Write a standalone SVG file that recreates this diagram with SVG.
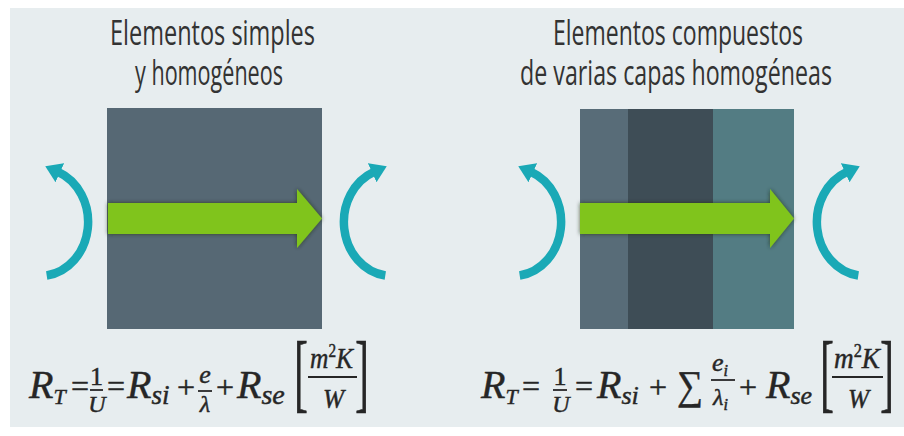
<svg xmlns="http://www.w3.org/2000/svg" width="904" height="436" viewBox="0 0 904 436">
<defs>
<style>
.title{font-family:"Open Sans","Liberation Sans",sans-serif;font-size:34px;font-weight:500;fill:#333333}
.m{font-family:"Liberation Serif","DejaVu Serif",serif;fill:#262626;stroke:#262626;stroke-width:0.45}
.i{font-style:italic}
.arc{fill:none;stroke:#1aa9b6;stroke-width:8.5;marker-end:url(#ah)}
.bar{stroke:#262626;stroke-width:1.8}
.flow{fill:#80c41c;filter:url(#sh)}
</style>
<marker id="ah" markerUnits="userSpaceOnUse" viewBox="0 0 24 24" markerWidth="24" markerHeight="24" refX="2" refY="12" orient="auto">
<path d="M0,1.5 L16,12 L0,22.5 z" fill="#1aa9b6"/>
</marker>
<filter id="sh" x="-10%" y="-30%" width="120%" height="160%">
<feDropShadow dx="0" dy="0" stdDeviation="2" flood-color="#1b2a12" flood-opacity="0.7"/>
</filter>
</defs>
<rect x="0" y="0" width="904" height="436" fill="#ffffff"/>
<rect x="10" y="8" width="894" height="419" fill="#e7edef"/>

<g id="title-simple">
<text class="title" x="110" y="45" textLength="205" lengthAdjust="spacingAndGlyphs">Elementos simples</text>
<text class="title" x="135" y="85" textLength="148" lengthAdjust="spacingAndGlyphs">y homogéneos</text>
</g>
<g id="title-composite">
<text class="title" x="553" y="45" textLength="250" lengthAdjust="spacingAndGlyphs">Elementos compuestos</text>
<text class="title" x="520" y="85" textLength="312" lengthAdjust="spacingAndGlyphs">de varias capas homogéneas</text>
</g>

<g id="wall-simple">
<rect x="107" y="108" width="215" height="221" fill="#566874"/>
</g>
<g id="wall-composite">
<rect x="580" y="109" width="48" height="220" fill="#586c78"/>
<rect x="628" y="109" width="85" height="220" fill="#3e4d56"/>
<rect x="713" y="109" width="81" height="220" fill="#537c83"/>
</g>

<g id="connectors">
<polygon class="flow" points="108,203 297,203 297,189 322,218.5 297,248 297,234 108,234"/>
<polygon class="flow" points="580,203 770,203 770,189 794,218.5 770,248 770,234 580,234"/>
<path class="arc" d="M46.7,275.5 A48,54 0 0 0 58,171.9"/>
<path class="arc" transform="matrix(-1,0,0,1,432,0)" d="M46.7,275.5 A48,54 0 0 0 58,171.9"/>
<path class="arc" transform="translate(473,0)" d="M46.7,275.5 A48,54 0 0 0 58,171.9"/>
<path class="arc" transform="matrix(-1,0,0,1,905,0)" d="M46.7,275.5 A48,54 0 0 0 58,171.9"/>
</g>

<g id="formula-simple">
<text class="m i" x="29" y="398" font-size="40">R<tspan font-size="22" dy="6">T</tspan></text>
<text class="m" x="71" y="397" font-size="32">=</text>
<text class="m" x="96.5" y="385" font-size="26" text-anchor="middle">1</text>
<line class="bar" x1="90" y1="390" x2="103" y2="390"/>
<text class="m i" x="97" y="412" font-size="24" text-anchor="middle">U</text>
<text class="m" x="107" y="397" font-size="32">=</text>
<text class="m i" x="127" y="398" font-size="40">R<tspan font-size="27" dy="6">si</tspan></text>
<text class="m" x="177" y="398" font-size="32">+</text>
<text class="m i" x="205" y="383" font-size="26" text-anchor="middle">e</text>
<line class="bar" x1="198" y1="391" x2="212" y2="391"/>
<text class="m i" x="205" y="412" font-size="24" text-anchor="middle">λ</text>
<text class="m" x="216" y="398" font-size="32">+</text>
<text class="m i" x="237" y="398" font-size="40">R<tspan font-size="28" dy="6">se</tspan></text>
<text class="m" x="294" y="401" font-size="86" textLength="14" lengthAdjust="spacingAndGlyphs">[</text>
<text class="m i" x="310" y="368" font-size="30" textLength="43" lengthAdjust="spacingAndGlyphs">m<tspan font-style="normal" font-size="18" dy="-11">2</tspan><tspan dy="11">K</tspan></text>
<line class="bar" x1="308" y1="377" x2="357" y2="377"/>
<text class="m i" x="323" y="408" font-size="28" textLength="21" lengthAdjust="spacingAndGlyphs">W</text>
<text class="m" x="355" y="401" font-size="86" textLength="14" lengthAdjust="spacingAndGlyphs">]</text>
</g>

<g id="formula-composite">
<text class="m i" x="481" y="398" font-size="40">R<tspan font-size="22" dy="6">T</tspan></text>
<text class="m" x="522" y="397" font-size="32">=</text>
<text class="m" x="560" y="385" font-size="26" text-anchor="middle">1</text>
<line class="bar" x1="553" y1="390" x2="567" y2="390"/>
<text class="m i" x="561" y="412" font-size="24" text-anchor="middle">U</text>
<text class="m" x="575" y="397" font-size="32">=</text>
<text class="m i" x="597" y="398" font-size="40">R<tspan font-size="26" dy="6">si</tspan></text>
<text class="m" x="649" y="398" font-size="32">+</text>
<text class="m" x="677" y="399" font-size="41" font-family="DejaVu Serif" textLength="26" lengthAdjust="spacingAndGlyphs">∑</text>
<text class="m i" x="712" y="371" font-size="26">e<tspan font-size="16" dy="5">i</tspan></text>
<line class="bar" x1="711" y1="380" x2="735" y2="380"/>
<text class="m i" x="713" y="405" font-size="24">λ<tspan font-size="16" dy="5">i</tspan></text>
<text class="m" x="739" y="398" font-size="32">+</text>
<text class="m i" x="766" y="398" font-size="40">R<tspan font-size="26" dy="6">se</tspan></text>
<text class="m" x="820" y="401" font-size="86" textLength="14" lengthAdjust="spacingAndGlyphs">[</text>
<text class="m i" x="834" y="368" font-size="30" textLength="46" lengthAdjust="spacingAndGlyphs">m<tspan font-style="normal" font-size="18" dy="-11">2</tspan><tspan dy="11">K</tspan></text>
<line class="bar" x1="832" y1="377" x2="883" y2="377"/>
<text class="m i" x="848" y="408" font-size="28" textLength="21" lengthAdjust="spacingAndGlyphs">W</text>
<text class="m" x="880" y="401" font-size="86" textLength="14" lengthAdjust="spacingAndGlyphs">]</text>
</g>
</svg>
